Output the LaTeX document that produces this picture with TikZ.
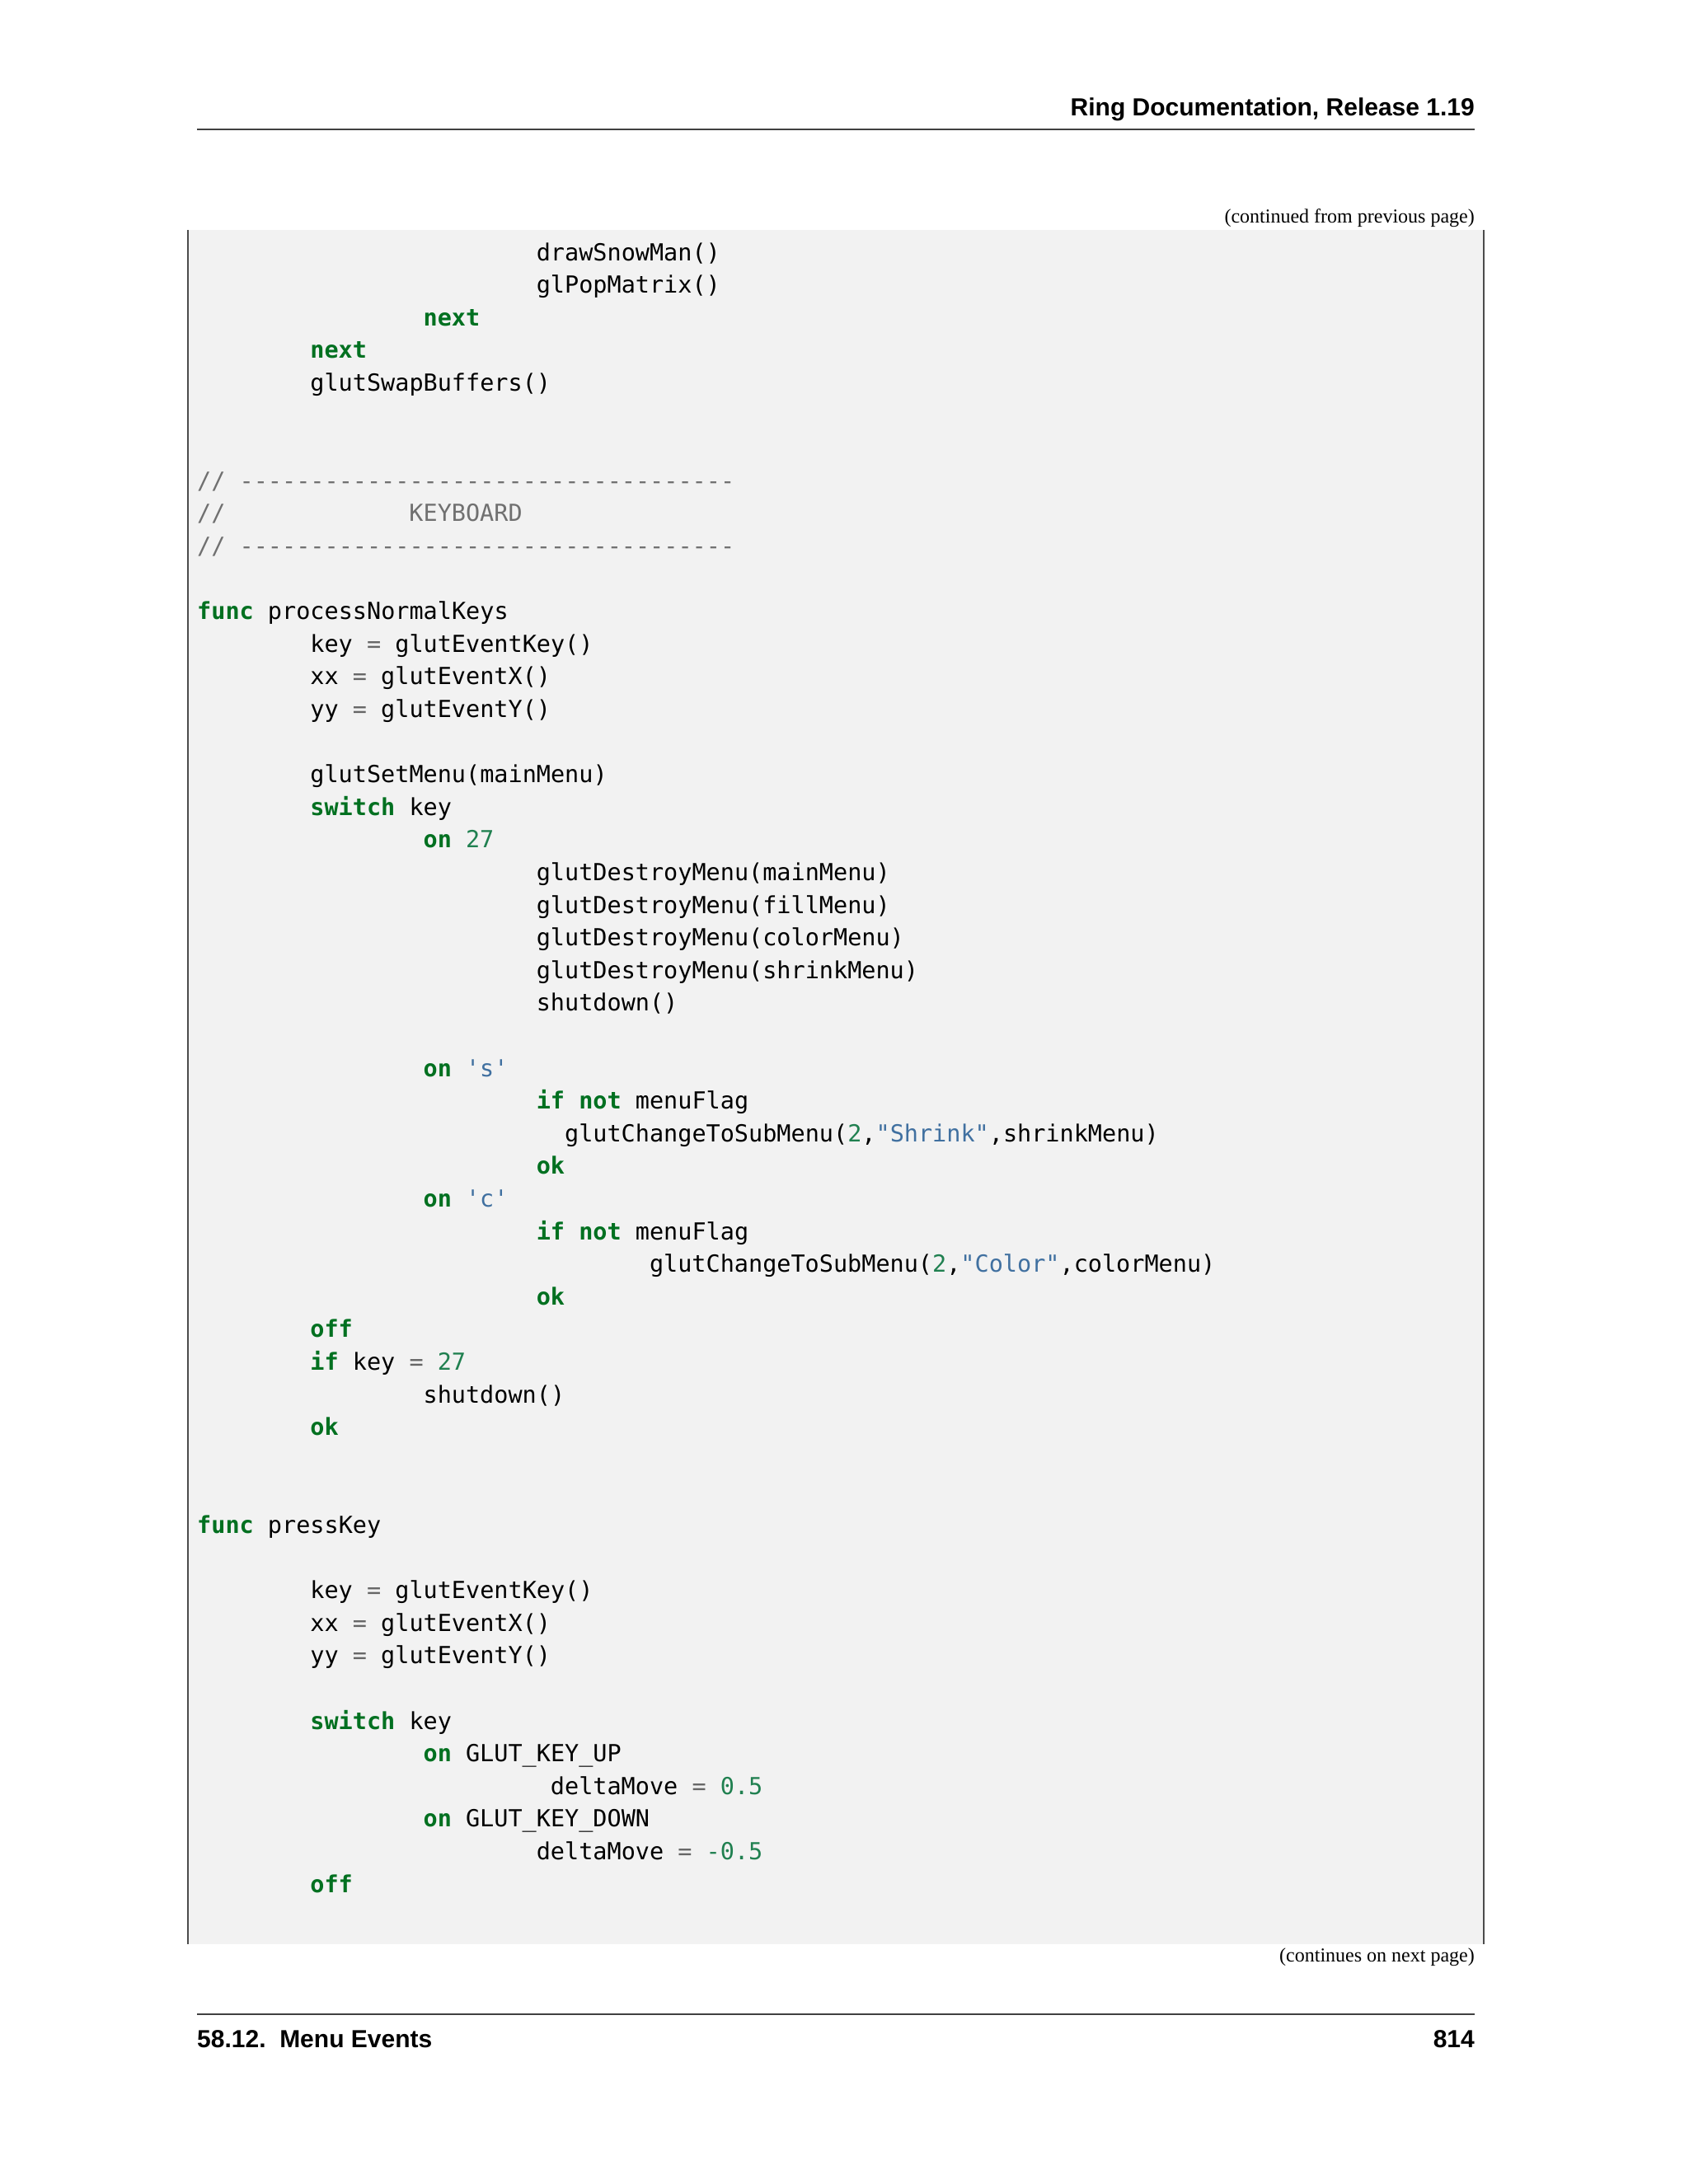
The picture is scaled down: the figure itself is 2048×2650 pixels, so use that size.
\documentclass[tikz,border=0pt]{standalone}
\usepackage{fontspec}
\setmainfont{Liberation Serif}
\newfontfamily\hdfont{Liberation Sans}
\newfontfamily\codefont{DejaVu Sans Mono}
\definecolor{kwc}{HTML}{007020}
\definecolor{numc}{HTML}{208050}
\definecolor{strc}{HTML}{4070A0}
\definecolor{opc}{HTML}{666666}
\definecolor{cmc}{HTML}{707070}
\definecolor{boxc}{HTML}{F2F2F2}
\newcommand{\kw}[1]{\textcolor{kwc}{\bfseries #1}}
\newcommand{\nm}[1]{\textcolor{numc}{#1}}
\newcommand{\st}[1]{\textcolor{strc}{#1}}
\newcommand{\op}[1]{\textcolor{opc}{#1}}
\newcommand{\cm}[1]{\textcolor{cmc}{#1}}
\newcommand{\cl}[3]{\node[codeline] (l#1) at (239+#2*17.15, 316+39.6*#1) {#3};}
\begin{document}
\begin{tikzpicture}[x=1pt,y=-1pt,
  codeline/.style={anchor=base west, inner sep=0pt, font=\codefont\fontsize{28.5}{30}\selectfont},
  hd/.style={inner sep=0pt, font=\hdfont\bfseries\fontsize{30}{34}\selectfont},
  note/.style={inner sep=0pt, anchor=base east, font=\fontsize{24}{28}\selectfont}]
\useasboundingbox (0,0) rectangle (2048,2650);
\fill[white] (0,0) rectangle (2048,2650);
% header
\node[hd, anchor=base east] (hdr) at (1789,140) {Ring Documentation, Release 1.19};
\draw[line width=1.5pt, black!75] (239,157) -- (1789,157);
\node[note] (cont) at (1789,270) {(continued from previous page)};
% code box
\fill[boxc] (228,279) rectangle (1800,2359);
\draw[line width=1.3pt, black!70] (228,279) -- (228,2359);
\draw[line width=1.3pt, black!70] (1800,279) -- (1800,2359);
% code
\cl{0}{24}{drawSnowMan()}
\cl{1}{24}{glPopMatrix()}
\cl{2}{16}{\kw{next}}
\cl{3}{8}{\kw{next}}
\cl{4}{8}{glutSwapBuffers()}
\cl{7}{0}{\cm{// -----------------------------------}}
\cl{8}{0}{\cm{//}}
\cl{8}{15}{\cm{KEYBOARD}}
\cl{9}{0}{\cm{// -----------------------------------}}
\cl{11}{0}{\kw{func} processNormalKeys}
\cl{12}{8}{key \op{=} glutEventKey()}
\cl{13}{8}{xx \op{=} glutEventX()}
\cl{14}{8}{yy \op{=} glutEventY()}
\cl{16}{8}{glutSetMenu(mainMenu)}
\cl{17}{8}{\kw{switch} key}
\cl{18}{16}{\kw{on} \nm{27}}
\cl{19}{24}{glutDestroyMenu(mainMenu)}
\cl{20}{24}{glutDestroyMenu(fillMenu)}
\cl{21}{24}{glutDestroyMenu(colorMenu)}
\cl{22}{24}{glutDestroyMenu(shrinkMenu)}
\cl{23}{24}{shutdown()}
\cl{25}{16}{\kw{on} \st{'s'}}
\cl{26}{24}{\kw{if} \kw{not} menuFlag}
\cl{27}{26}{glutChangeToSubMenu(\nm{2},\st{"Shrink"},shrinkMenu)}
\cl{28}{24}{\kw{ok}}
\cl{29}{16}{\kw{on} \st{'c'}}
\cl{30}{24}{\kw{if} \kw{not} menuFlag}
\cl{31}{32}{glutChangeToSubMenu(\nm{2},\st{"Color"},colorMenu)}
\cl{32}{24}{\kw{ok}}
\cl{33}{8}{\kw{off}}
\cl{34}{8}{\kw{if} key \op{=} \nm{27}}
\cl{35}{16}{shutdown()}
\cl{36}{8}{\kw{ok}}
\cl{39}{0}{\kw{func} pressKey}
\cl{41}{8}{key \op{=} glutEventKey()}
\cl{42}{8}{xx \op{=} glutEventX()}
\cl{43}{8}{yy \op{=} glutEventY()}
\cl{45}{8}{\kw{switch} key}
\cl{46}{16}{\kw{on} GLUT\_KEY\_UP}
\cl{47}{25}{deltaMove \op{=} \nm{0.5}}
\cl{48}{16}{\kw{on} GLUT\_KEY\_DOWN}
\cl{49}{24}{deltaMove \op{=} \nm{-0.5}}
\cl{50}{8}{\kw{off}}
% footer
\node[note] (next) at (1789,2380) {(continues on next page)};
\draw[line width=1.5pt, black!75] (239,2444) -- (1789,2444);
\node[hd, anchor=base west] (sec) at (239,2484) {58.12.\ \ Menu Events};
\node[hd, anchor=base east] (pg) at (1789,2484) {814};
\end{tikzpicture}
\end{document}
